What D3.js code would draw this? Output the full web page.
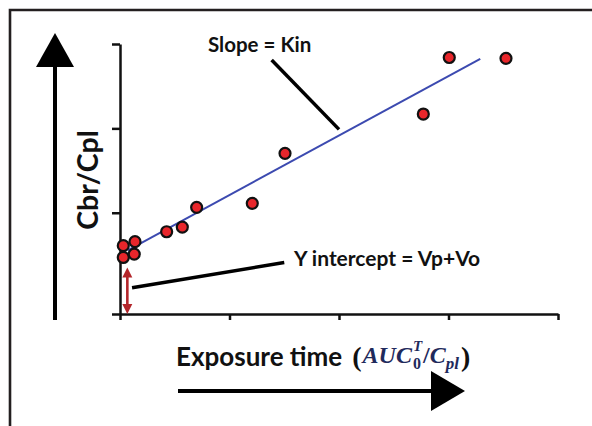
<!DOCTYPE html>
<html><head><meta charset="utf-8">
<script src="https://cdn.jsdelivr.net/npm/d3@7"></script>
<style>html,body{margin:0;padding:0;background:#fff;} svg{display:block;}</style>
</head><body>
<svg id="chart" width="592" height="426"></svg>
<script>
// ---- data ----
const exposureX = [0.03, 0.137, 0.03, 0.13, 0.426, 0.569, 0.70, 1.208, 1.507, 2.77, 3.007, 3.525];
const ratioY    = [0.81, 0.857, 0.67, 0.71, 0.975, 1.03, 1.264, 1.312, 1.904, 2.37, 3.04, 3.03];
const fitX = [0.07, 3.29];
const fitY = [0.755, 3.024];
const xTicks = [0, 1, 2, 3, 4];
const yTicks = [0, 1.2, 2.2, 3.2];
const slopePointerX = [1.385, 2.0];
const slopePointerY = [3.01, 2.188];
const interceptPointerX = [0.11, 1.5];
const interceptPointerY = [0.31, 0.61];
const interceptArrowX = [0.067, 0.067];
const interceptArrowY = [0.0, 0.55];
const slopeLabel = "Slope = Kin";
const interceptLabel = "Y intercept = Vp+Vo";
const yLabel = "Cbr/Cpl";
const xLabel = "Exposure time";

// ---- drawing ----
const svg = d3.select("#chart");
const x = d3.scaleLinear().domain([0, 4]).range([120, 558]);
const y = d3.scaleLinear().domain([0, 3.2]).range([314, 44]);
const FONT = "Lato, 'Open Sans', sans-serif";

// frame (top + left only)
svg.append("path").attr("d", "M10,426V10H592").attr("fill", "none")
  .attr("stroke", "#231f20").attr("stroke-width", 2.6);

// axes
const gy = svg.append("g").attr("transform", `translate(${x(0)},0)`)
  .call(d3.axisLeft(y).tickValues(yTicks).tickSize(8).tickSizeOuter(0).tickFormat(""));
const gx = svg.append("g").attr("transform", `translate(0,${y(0)})`)
  .call(d3.axisBottom(x).tickValues(xTicks).tickSize(6).tickSizeOuter(0).tickFormat(""));
[gx, gy].forEach(g => {
  g.selectAll("path,line").attr("stroke", "#111").attr("stroke-width", 2.5);
});

// fit line
svg.append("line")
  .attr("x1", x(fitX[0])).attr("y1", y(fitY[0]))
  .attr("x2", x(fitX[1])).attr("y2", y(fitY[1]))
  .attr("stroke", "#3c4ab0").attr("stroke-width", 2);

// pointers
svg.append("line")
  .attr("x1", x(slopePointerX[0])).attr("y1", y(slopePointerY[0]))
  .attr("x2", x(slopePointerX[1])).attr("y2", y(slopePointerY[1]))
  .attr("stroke", "#000").attr("stroke-width", 3.5);
svg.append("line")
  .attr("x1", x(interceptPointerX[0])).attr("y1", y(interceptPointerY[0]))
  .attr("x2", x(interceptPointerX[1])).attr("y2", y(interceptPointerY[1]))
  .attr("stroke", "#000").attr("stroke-width", 3.5);

// red double arrow for intercept
{
  const ax = x(interceptArrowX[0]);
  const yb = y(interceptArrowY[0]), yt = y(interceptArrowY[1]);
  const col = "#b3262b", hw = 5, hl = 10;
  svg.append("line").attr("x1", ax).attr("x2", ax).attr("y1", yt + hl - 1).attr("y2", yb - hl + 1)
    .attr("stroke", col).attr("stroke-width", 2.6);
  svg.append("path").attr("fill", col)
    .attr("d", `M${ax},${yt}L${ax - hw},${yt + hl}L${ax + hw},${yt + hl}Z`);
  svg.append("path").attr("fill", col)
    .attr("d", `M${ax},${yb}L${ax - hw},${yb - hl}L${ax + hw},${yb - hl}Z`);
}

// points
svg.append("g").selectAll("circle").data(exposureX.map((v, i) => [v, ratioY[i]]))
  .join("circle")
  .attr("cx", d => x(d[0])).attr("cy", d => y(d[1])).attr("r", 5.5)
  .attr("fill", "#e8262b").attr("stroke", "#111").attr("stroke-width", 2.2);

// annotation labels
svg.append("text").attr("x", 208).attr("y", 52).text(slopeLabel)
  .attr("font-family", FONT).attr("font-weight", 700).attr("font-size", 20.5).attr("fill", "#111");
svg.append("text").attr("x", 294).attr("y", 266).text(interceptLabel)
  .attr("font-family", FONT).attr("font-weight", 700).attr("font-size", 21).attr("fill", "#111");

// big Y arrow
svg.append("line").attr("x1", 55).attr("x2", 55).attr("y1", 320).attr("y2", 60)
  .attr("stroke", "#000").attr("stroke-width", 4);
svg.append("path").attr("fill", "#000").attr("d", "M55,33L36,67L74,67Z");

// y label
svg.append("text").attr("transform", "translate(98,180) rotate(-90)")
  .attr("text-anchor", "middle").text(yLabel)
  .attr("font-family", FONT).attr("font-weight", 700).attr("font-size", 28.5).attr("fill", "#111");

// x label
const xl = svg.append("text").attr("x", 176).attr("y", 366).text(xLabel)
  .attr("font-family", FONT).attr("font-weight", 700).attr("font-size", 26).attr("fill", "#111");
let cx = 176 + xl.node().getComputedTextLength() + 10;
const SERIF = "'Liberation Serif', 'DejaVu Serif', serif";
const NAVY = "#1f2a5c";
function piece(t, dy, size, opts = {}) {
  const el = svg.append("text").attr("x", cx).attr("y", 363 + dy).text(t)
    .attr("font-family", SERIF).attr("font-size", size)
    .attr("font-style", opts.upright ? "normal" : "italic")
    .attr("font-weight", 700)
    .attr("fill", opts.color || NAVY);
  return el.node().getComputedTextLength();
}
cx += piece("(", 3, 28, {upright: true, color: "#111"}) + 1;
cx += piece("AUC", 0, 24) + 1;
{
  const w1 = piece("0", 6, 16, {upright: true});
  const w2 = piece("T", -12, 15);
  cx += Math.max(w1, w2) + 1;
}
cx += piece("/", 0, 24, {upright: true});
cx += piece("C", 0, 24);
cx += piece("pl", 6, 17) + 2;
piece(")", 3, 28, {upright: true, color: "#111"});

// big X arrow
svg.append("line").attr("x1", 178).attr("x2", 440).attr("y1", 391).attr("y2", 391)
  .attr("stroke", "#000").attr("stroke-width", 4);
svg.append("path").attr("fill", "#000").attr("d", "M465,391L431,371L431,411Z");
</script>
</body></html>
